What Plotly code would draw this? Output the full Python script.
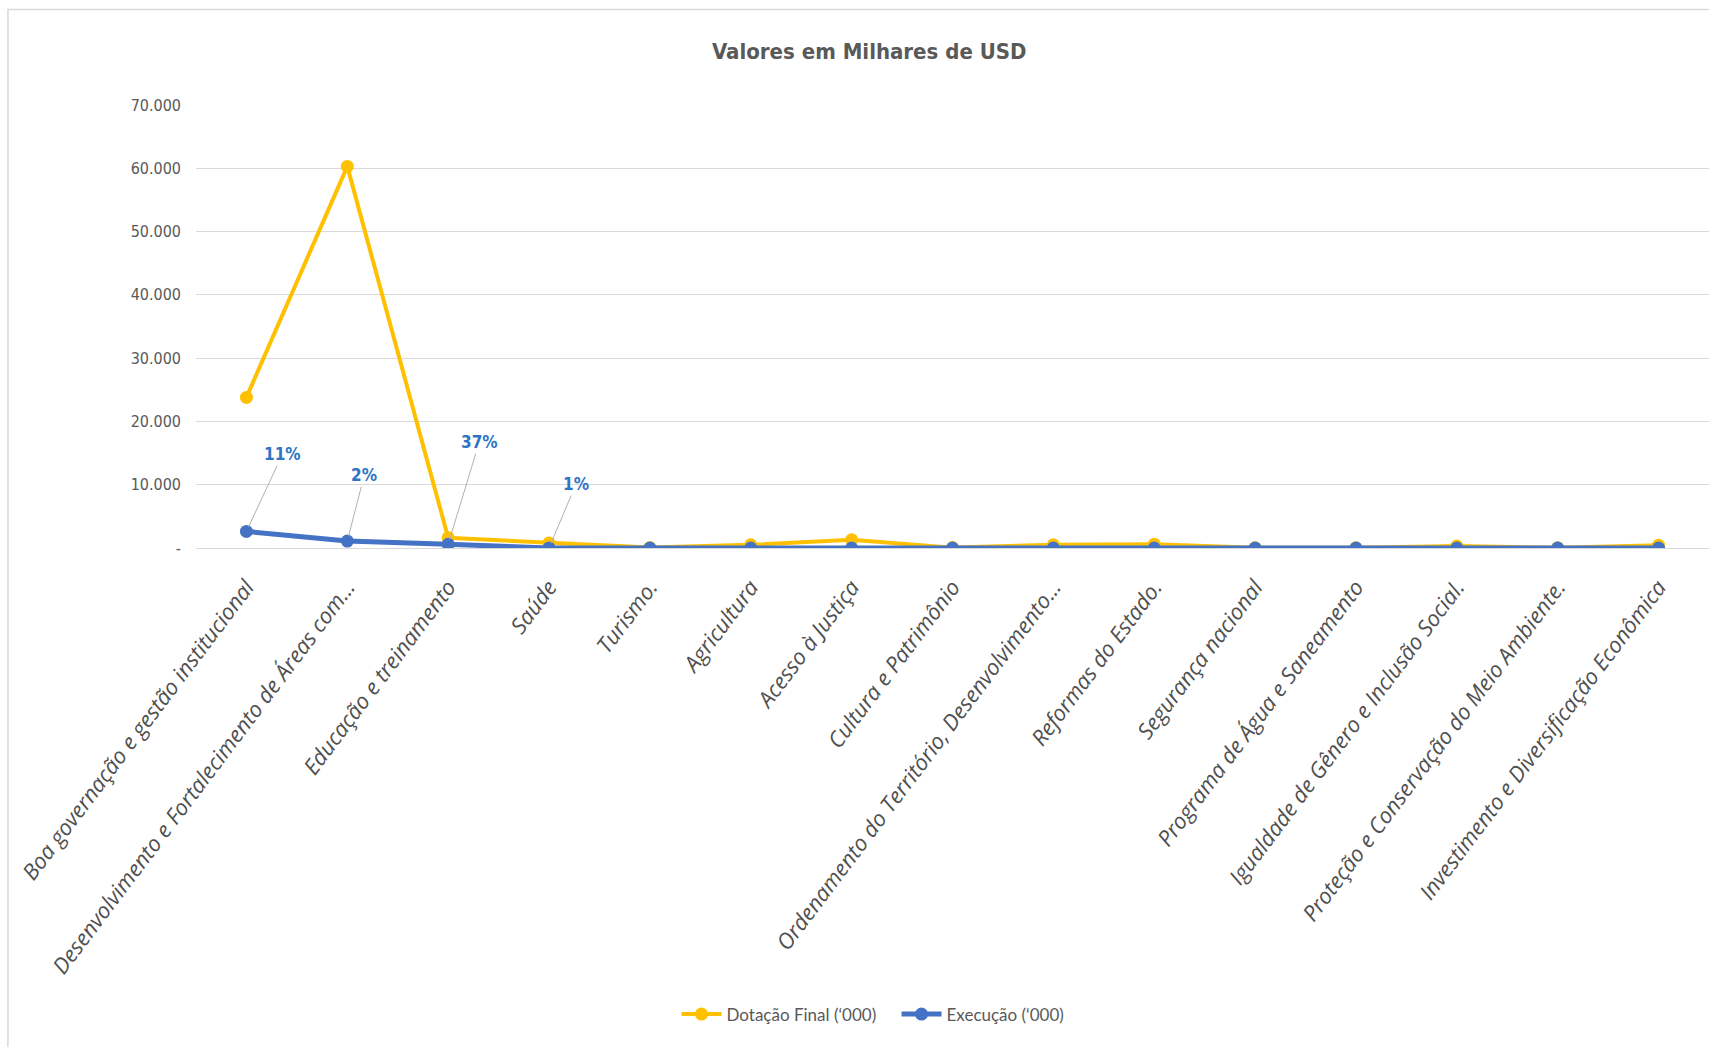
import plotly.graph_objects as go

categories = [
    "Boa governação e gestão institucional",
    "Desenvolvimento e Fortalecimento de Áreas com...",
    "Educação e treinamento",
    "Saúde",
    "Turismo.",
    "Agricultura",
    "Acesso à Justiça",
    "Cultura e Patrimônio",
    "Ordenamento do Território, Desenvolvimento...",
    "Reformas do Estado.",
    "Segurança nacional",
    "Programa de Água e Saneamento",
    "Igualdade de Gênero e Inclusão Social.",
    "Proteção e Conservação do Meio Ambiente.",
    "Investimento e Diversificação Econômica",
]
dotacao = [23800, 60300, 1600, 800, 60, 500, 1300, 60, 500, 600, 40, 40, 300, 40, 450]
execucao = [2620, 1100, 590, 8, 0, 0, 0, 0, 0, 0, 0, 0, 0, 0, 0]
label_idx = [0, 1, 2, 3]
label_txt = ["11%", "2%", "37%", "1%"]
label_off = [(36, -77), (17, -66), (31, -102), (27, -64)]

y_tickvals = [0, 10000, 20000, 30000, 40000, 50000, 60000, 70000]
y_ticktext = ["-", "10.000", "20.000", "30.000", "40.000", "50.000", "60.000", "70.000"]

YELLOW = "#FFC000"
BLUE = "#4472C4"
GREY = "#595959"
NARROW = "DejaVu Sans Condensed, Liberation Sans Narrow, Roboto, sans-serif"
BODY = "Lato, Carlito, Calibri, sans-serif"
ITAL = "Open Sans, Noto Sans, sans-serif"

fig = go.Figure()
fig.add_trace(go.Scatter(
    x=categories, y=dotacao, mode="lines+markers", name="Dotação Final (‘000)",
    line=dict(color=YELLOW, width=4), marker=dict(color=YELLOW, size=13),
))
fig.add_trace(go.Scatter(
    x=categories, y=execucao, mode="lines+markers", name="Execução (‘000)",
    line=dict(color=BLUE, width=5), marker=dict(color=BLUE, size=13),
))

annotations = []
for i, t, (dx, dy) in zip(label_idx, label_txt, label_off):
    annotations.append(dict(
        x=categories[i], y=execucao[i], xref="x", yref="y", text="<b>%s</b>" % t,
        showarrow=True, arrowhead=0, arrowwidth=1, arrowcolor="#B0B0B0",
        ax=dx, ay=dy, standoff=5,
        font=dict(family=NARROW, size=17, color="#2E75C6"),
    ))
annotations.append(dict(
    x=0.445, y=1.121, xref="paper", yref="paper", showarrow=False,
    text="<b>Valores em Milhares de USD</b>",
    font=dict(family=NARROW, size=22, color=GREY), xanchor="center", yanchor="middle",
))
fig.update_layout(
    width=1709, height=1047,
    margin=dict(l=196, r=0, t=105, b=499, pad=0),
    paper_bgcolor="white", plot_bgcolor="white",
    showlegend=True,
    legend=dict(orientation="h", x=0.463, y=-1.053, xanchor="center", yanchor="middle",
                font=dict(family=BODY, size=17, color=GREY),
                itemwidth=40, entrywidth=165, entrywidthmode="pixels"),
    annotations=annotations,
    shapes=[dict(type="rect", xref="paper", yref="paper", x0=-0.1243, x1=1.01,
                 y0=-1.2, y1=1.2156, line=dict(color="#D9D9D9", width=1.5),
                 fillcolor="rgba(0,0,0,0)", layer="below")],
)
fig.update_xaxes(
    type="category", range=[-0.5, len(categories) - 0.5],
    tickangle=-53, tickfont=dict(family=ITAL, size=22, color="#505050", style="italic"),
    showgrid=False, showline=False, zeroline=False, ticks="", ticklabelstandoff=21,
)
fig.update_yaxes(
    range=[0, 70000], tickvals=y_tickvals, ticktext=y_ticktext,
    tickfont=dict(family=NARROW, size=16, color=GREY),
    showgrid=True, gridcolor="#D9D9D9", gridwidth=1.3, zeroline=True,
    zerolinecolor="#D9D9D9", zerolinewidth=1.3, showline=False, ticks="",
    ticklabelstandoff=14,
)
fig.write_html("out.html", config={"displayModeBar": False},
               post_script="document.body.style.margin='0';document.body.style.overflow='hidden';")
